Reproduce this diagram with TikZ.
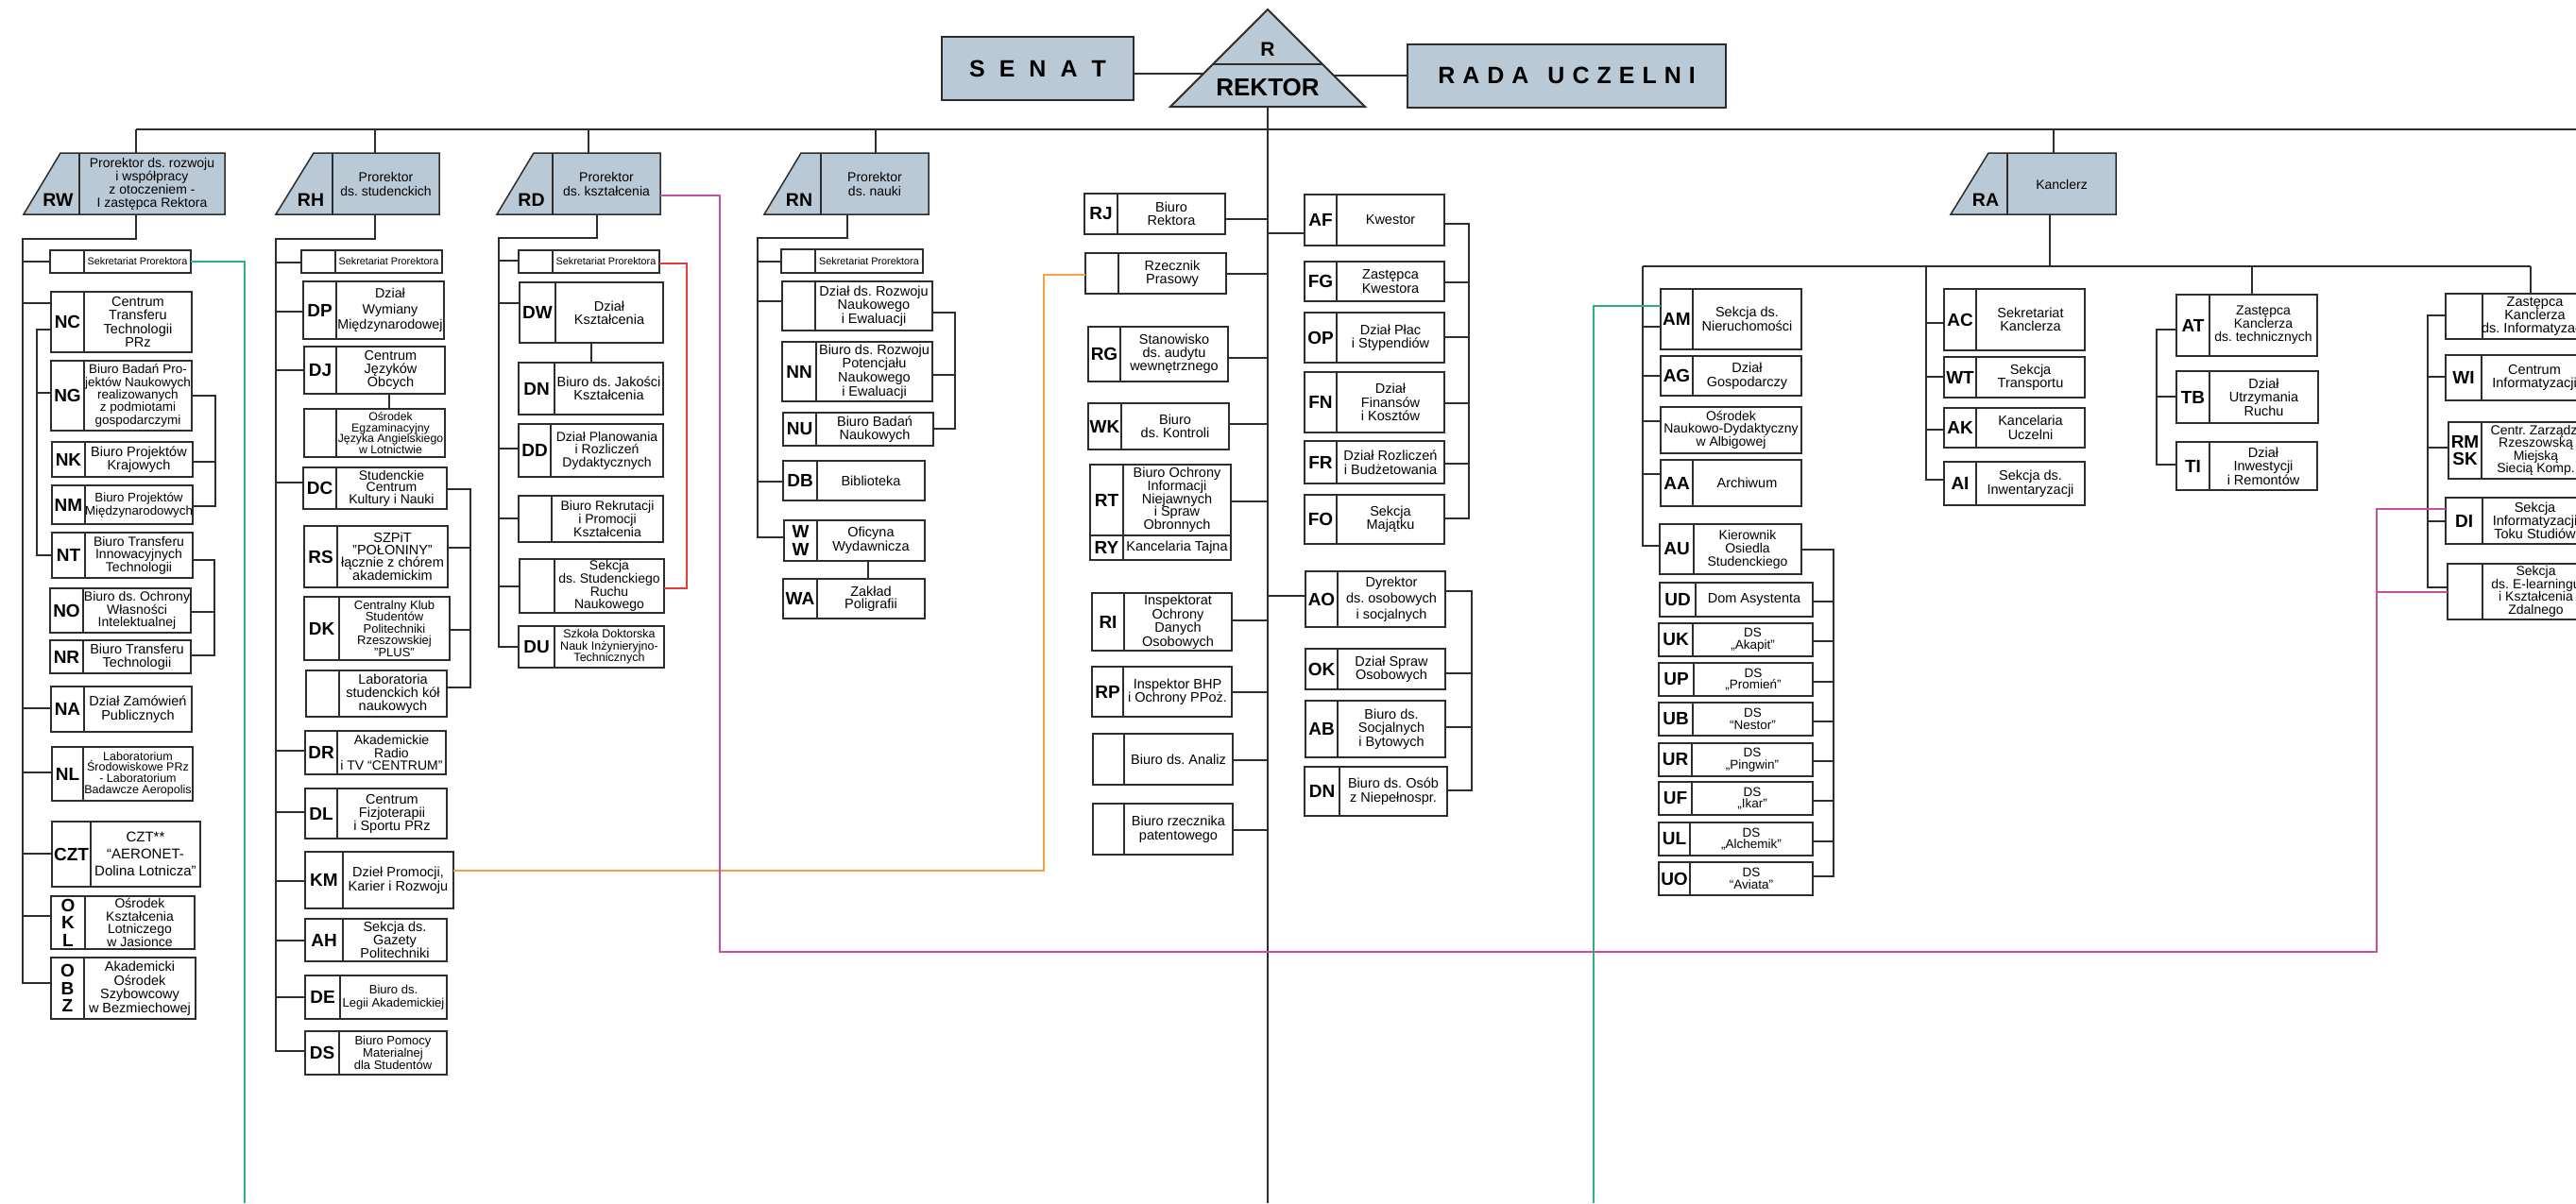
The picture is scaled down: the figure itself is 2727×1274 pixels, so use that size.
\documentclass[tikz,border=0pt]{standalone}
\usepackage{fontspec}
\setmainfont{Liberation Sans}
\usetikzlibrary{calc}
\definecolor{hdr}{RGB}{185,202,214}
\definecolor{lnc}{RGB}{45,45,45}
\definecolor{grn}{RGB}{40,180,120}
\definecolor{org}{RGB}{245,160,70}
\definecolor{mag}{RGB}{195,80,160}
\definecolor{redl}{RGB}{230,60,50}
\newcommand\fs[2]{\fontsize{#1}{#2}\selectfont}
\tikzset{
 ubx/.style={draw=lnc, line width=1.4pt, inner sep=0pt, outer sep=0pt, fill=white},
 cnx/.style={draw=lnc, line width=1.3pt},
 divl/.style={draw=lnc, line width=1.2pt},
 codetxt/.style={inner sep=0pt, align=center, font=\fs{19}{18.5}\bfseries, text=black},
 bodytxt/.style={inner sep=0pt, align=center, text=black},
 hdrbox/.style={draw=lnc, line width=2pt, fill=hdr, inner sep=0pt},
}
% font, name, x1, y1, x2, y2, xdiv, code, text
\newcommand\ubox[9][\fs{14.5}{14.5}]{%
 \node[ubx, minimum width={#5-#3}, minimum height={#6-#4}] (#2) at ({(#3+#5)/2},{(#4+#6)/2}) {};
 \draw[divl] (#7,#4) -- (#7,#6);
 \node[codetxt] (#2c) at ({(#3+#7)/2},{(#4+#6)/2}) {#8};
 \node[bodytxt, font={#1}] (#2t) at ({(#7+#5)/2},{(#4+#6)/2}) {#9};
}
\newcommand\nbox[7][\fs{14.5}{14.5}]{%
 \node[ubx, minimum width={#5-#3}, minimum height={#6-#4}] (#2) at ({(#3+#5)/2},{(#4+#6)/2}) {};
 \node[bodytxt, font={#1}] (#2t) at ({(#3+#5)/2},{(#4+#6)/2}) {#7};
}
% name, xtl, xbl, xdiv, xr, code, text
\newcommand\pbox[7]{%
 \filldraw[fill=hdr, draw=lnc, line width=1.5pt] (#2,162) -- (#5,162) -- (#5,227) -- (#3,227) -- cycle;
 \draw[divl] (#4,162) -- (#4,227);
 \node[inner sep=0pt, outer sep=0pt, minimum width={#5-#3}, minimum height=65] (#1) at ({(#3+#5)/2},194.5) {};
 \node[codetxt, font=\fs{19.5}{19}\bfseries] (#1c) at ({(#3+#4)/2+7},212) {#6};
 \node[bodytxt, font=\fs{14}{14.2}] (#1t) at ({(#4+#5)/2},195) {#7};
}
\newcommand\stubL[3]{\draw[cnx] (#1,#2) -- (#3.west |- 0,#2);}
\newcommand\stubR[3]{\draw[cnx] (#3.east |- 0,#2) -- (#1,#2);}
\begin{document}
\frenchspacing
\begin{tikzpicture}[x=1pt,y=-1pt]
\useasboundingbox (0,0) rectangle (2727,1274);
\clip (0,0) rectangle (2727,1274);
\fill[white] (0,0) rectangle (2727,1274);

% ---------- header ----------
\node[hdrbox, minimum width=203, minimum height=67, font=\fs{25}{25}\bfseries] (SENAT) at (1098.5,72.5)
  {S\hspace{15pt}E\hspace{15pt}N\hspace{15pt}A\hspace{15pt}T};
\node[hdrbox, minimum width=337, minimum height=67, font=\fs{25}{25}\bfseries] (RADA) at (1658.5,80)
  {R\hspace{8pt}A\hspace{8pt}D\hspace{8pt}A\hspace{20pt}U\hspace{8pt}C\hspace{8pt}Z\hspace{8pt}E\hspace{8pt}L\hspace{8pt}N\hspace{8pt}I};
\filldraw[fill=hdr, draw=lnc, line width=2pt] (1342,10) -- (1445,113) -- (1239,113) -- cycle;
\draw[divl] (1284,68) -- (1400,68);
\node[font=\fs{21}{21}\bfseries, inner sep=0pt] (Rt) at (1342,52) {R};
\node[font=\fs{26}{26}\bfseries, inner sep=0pt] (REKTOR) at (1342,93) {REKTOR};
\coordinate (TRb) at (1342,113);
\coordinate (TRl) at (1274,78);
\coordinate (TRr) at (1412,80);

% ---------- prorektorzy ----------
\pbox{RW}{64}{25}{84}{238}{RW}{Prorektor ds. rozwoju\\i współpracy\\z otoczeniem -\\I zastępca Rektora}
\pbox{RH}{332}{292}{352}{465}{RH}{Prorektor\\ds. studenckich}
\pbox{RD}{565}{526}{585}{699}{RD}{Prorektor\\ds. kształcenia}
\pbox{RN}{848}{809}{869}{983}{RN}{Prorektor\\ds. nauki}
\pbox{RA}{2105}{2065}{2125}{2240}{RA}{Kanclerz}

% ---------- RW group ----------
\ubox[\fs{10.8}{11}]{SekRW}{53}{265}{202}{289}{89}{}{Sekretariat Prorektora}
\ubox[\fs{14.5}{14.5}]{NC}{54}{309}{203}{373}{89}{NC}{Centrum\\Transferu\\Technologii\\PRz}
\ubox[\fs{13.5}{13.3}]{NG}{54}{382}{203}{456}{89}{NG}{Biuro Badań Pro-\\jektów Naukowych\\realizowanych\\z podmiotami\\gospodarczymi}
\ubox{NK}{55}{468}{204}{505}{90}{NK}{Biuro Projektów\\Krajowych}
\ubox[\fs{13.3}{14}]{NM}{55}{514}{204}{555}{90}{NM}{Biuro Projektów\\Międzynarodowych}
\ubox[\fs{14}{13.5}]{NT}{55}{564}{204}{612}{90}{NT}{Biuro Transferu\\Innowacyjnych\\Technologii}
\ubox[\fs{14}{13.5}]{NO}{53}{623}{202}{670}{88}{NO}{Biuro ds. Ochrony\\Własności\\Intelektualnej}
\ubox[\fs{14.5}{14.5}]{NR}{53}{678}{202}{713}{88}{NR}{Biuro Transferu\\Technologii}
\ubox[\fs{14.5}{15}]{NA}{54}{727}{203}{775}{89}{NA}{Dział Zamówień\\Publicznych}
\ubox[\fs{12.5}{11.7}]{NL}{55}{791}{204}{848}{88}{NL}{Laboratorium\\Środowiskowe PRz\\- Laboratorium\\Badawcze Aeropolis}
\ubox[\fs{15}{18}]{CZT}{55}{870}{212}{939}{96}{CZT}{CZT**\\“AERONET-\\Dolina Lotnicza”}
\ubox[\fs{14}{13.5}]{OKL}{54}{949}{206}{1005}{90}{O\\K\\L}{Ośrodek\\Kształcenia\\Lotniczego\\w Jasionce}
\ubox[\fs{14.5}{14.5}]{OBZ}{54}{1014}{207}{1079}{89}{O\\B\\Z}{Akademicki\\Ośrodek\\Szybowcowy\\w Bezmiechowej}

% ---------- RH group ----------
\ubox[\fs{10.8}{11}]{SekRH}{319}{265}{468}{289}{355}{}{Sekretariat Prorektora}
\ubox[\fs{14.3}{16.5}]{DP}{321}{298}{470}{359}{356}{DP}{Dział\\Wymiany\\Międzynarodowej}
\ubox[\fs{14.5}{13.5}]{DJ}{322}{367}{471}{417}{356}{DJ}{Centrum\\Języków\\Obcych}
\ubox[\fs{12.3}{11.5}]{OEJ}{322}{433}{471}{484}{356}{}{Ośrodek\\Egzaminacyjny\\Języka Angielskiego\\w Lotnictwie}
\ubox[\fs{14}{12.5}]{DC}{321}{495}{473}{539}{356}{DC}{Studenckie\\Centrum\\Kultury i Nauki}
\ubox[\fs{14.5}{13}]{RS}{322}{557}{474}{622}{357}{RS}{SZPiT\\"POŁONINY"\\łącznie z chórem\\akademickim}
\ubox[\fs{13}{12.5}]{DK}{322}{632}{476}{699}{359}{DK}{Centralny Klub\\Studentów\\Politechniki\\Rzeszowskiej\\"PLUS"}
\ubox[\fs{14.5}{14}]{LSK}{324}{710}{473}{759}{359}{}{Laboratoria\\studenckich kół\\naukowych}
\ubox[\fs{14}{13.3}]{DR}{323}{774}{472}{820}{357}{DR}{Akademickie\\Radio\\i TV “CENTRUM"}
\ubox[\fs{14.5}{14}]{DL}{323}{835}{473}{888}{357}{DL}{Centrum\\Fizjoterapii\\i Sportu PRz}
\ubox[\fs{14.5}{15.5}]{KM}{323}{902}{480}{962}{363}{KM}{Dzieł Promocji,\\Karier i Rozwoju}
\ubox[\fs{14.5}{13.5}]{AH}{323}{973}{473}{1018}{363}{AH}{Sekcja ds.\\Gazety\\Politechniki}
\ubox[\fs{13}{14}]{DE}{323}{1033}{473}{1079}{360}{DE}{Biuro ds.\\Legii Akademickiej}
\ubox[\fs{13}{13}]{DS}{323}{1092}{473}{1138}{359}{DS}{Biuro Pomocy\\Materialnej\\dla Studentów}

% ---------- RD group ----------
\ubox[\fs{10.8}{11}]{SekRD}{549}{265}{698}{289}{585}{}{Sekretariat Prorektora}
\ubox[\fs{14.5}{14}]{DW}{550}{299}{702}{363}{588}{DW}{Dział\\Kształcenia}
\ubox[\fs{14.5}{14}]{DN}{549}{384}{702}{439}{587}{DN}{Biuro ds. Jakości\\Kształcenia}
\ubox[\fs{14}{13.5}]{DD}{549}{449}{702}{505}{583}{DD}{Dział Planowania\\i Rozliczeń\\Dydaktycznych}
\ubox[\fs{14}{13}]{BRK}{549}{525}{702}{574}{584}{}{Biuro Rekrutacji\\i Promocji\\Kształcenia}
\ubox[\fs{14}{12.5}]{SSRN}{550}{592}{703}{649}{587}{}{Sekcja\\ds. Studenckiego\\Ruchu\\Naukowego}
\ubox[\fs{12.5}{12.5}]{DU}{549}{663}{703}{707}{587}{DU}{Szkoła Doktorska\\Nauk Inżynieryjno-\\Technicznych}

% ---------- RN group ----------
\ubox[\fs{10.8}{11}]{SekRN}{827}{264}{977}{289}{863}{}{Sekretariat Prorektora}
\ubox[\fs{14.5}{13.5}]{DRN}{828}{298}{987}{350}{863}{}{Dział ds. Rozwoju\\Naukowego\\i Ewaluacji}
\ubox[\fs{14.5}{13.5}]{NN}{828}{362}{987}{425}{864}{NN}{Biuro ds. Rozwoju\\Potencjału\\Naukowego\\i Ewaluacji}
\ubox[\fs{14.5}{13.5}]{NU}{829}{437}{988}{472}{864}{NU}{Biuro Badań\\Naukowych}
\ubox{DB}{829}{488}{979}{530}{865}{DB}{Biblioteka}
\ubox[\fs{14.5}{13.5}]{WW}{830}{551}{979}{594}{865}{W\\W}{Oficyna\\Wydawnicza}
\ubox[\fs{14.5}{13.5}]{WA}{829}{613}{979}{655}{865}{WA}{Zakład\\Poligrafii}

% ---------- Rektor units ----------
\ubox{RJ}{1148}{205}{1297}{248}{1183}{RJ}{Biuro\\Rektora}
\ubox{RzP}{1149}{268}{1298}{311}{1184}{}{Rzecznik\\Prasowy}
\ubox[\fs{14.5}{14}]{RG}{1152}{346}{1300}{404}{1186}{RG}{Stanowisko\\ds. audytu\\wewnętrznego}
\ubox{WK}{1152}{427}{1301}{476}{1187}{WK}{Biuro\\ds. Kontroli}
\ubox[\fs{14.5}{13.7}]{RT}{1154}{492}{1303}{567}{1189}{RT}{Biuro Ochrony\\Informacji\\Niejawnych\\i Spraw\\Obronnych}
\ubox{RY}{1154}{567}{1303}{593}{1189}{RY}{Kancelaria Tajna}
\ubox{RI}{1156}{628}{1304}{689}{1190}{RI}{Inspektorat\\Ochrony\\Danych\\Osobowych}
\ubox{RP}{1156}{706}{1304}{759}{1189}{RP}{Inspektor BHP\\i Ochrony PPoż.}
\ubox{BAN}{1157}{777}{1305}{831}{1190}{}{Biuro ds. Analiz}
\ubox{BRP}{1157}{851}{1305}{905}{1190}{}{Biuro rzecznika\\patentowego}

\ubox{AF}{1381}{206}{1529}{260}{1415}{AF}{Kwestor}
\ubox{FG}{1381}{277}{1529}{319}{1415}{FG}{Zastępca\\Kwestora}
\ubox{OP}{1381}{331}{1529}{384}{1415}{OP}{Dział Płac\\i Stypendiów}
\ubox{FN}{1381}{394}{1529}{458}{1415}{FN}{Dział\\Finansów\\i Kosztów}
\ubox{FR}{1381}{467}{1529}{512}{1415}{FR}{Dział Rozliczeń\\i Budżetowania}
\ubox{FO}{1381}{524}{1529}{576}{1415}{FO}{Sekcja\\Majątku}
\ubox[\fs{14.5}{17}]{AO}{1382}{605}{1530}{664}{1416}{AO}{Dyrektor\\ds. osobowych\\i socjalnych}
\ubox{OKd}{1382}{687}{1530}{730}{1416}{OK}{Dział Spraw\\Osobowych}
\ubox{AB}{1382}{742}{1530}{802}{1416}{AB}{Biuro ds.\\Socjalnych\\i Bytowych}
\ubox{DNb}{1381}{812}{1532}{864}{1418}{DN}{Biuro ds. Osób\\z Niepełnospr.}

% ---------- Kanclerz group ----------
\ubox{AM}{1758}{306}{1907}{370}{1792}{AM}{Sekcja ds.\\Nieruchomości}
\ubox{AG}{1758}{377}{1907}{419}{1792}{AG}{Dział\\Gospodarczy}
\nbox[\fs{14}{13}]{OND}{1758}{431}{1907}{480}{Ośrodek\\Naukowo-Dydaktyczny\\w Albigowej}
\ubox{AA}{1758}{487}{1907}{536}{1792}{AA}{Archiwum}
\ubox[\fs{14}{14}]{AU}{1757}{555}{1907}{608}{1793}{AU}{Kierownik\\Osiedla\\Studenckiego}
\ubox{UD}{1757}{617}{1919}{653}{1795}{UD}{Dom Asystenta}
\ubox[\fs{13.5}{12.5}]{UK}{1756}{660}{1919}{695}{1792}{UK}{DS\\„Akapit”}
\ubox[\fs{13.5}{12.5}]{UP}{1756}{702}{1919}{737}{1793}{UP}{DS\\„Promień”}
\ubox[\fs{13.5}{12.5}]{UB}{1756}{744}{1919}{779}{1792}{UB}{DS\\“Nestor”}
\ubox[\fs{13.5}{12.5}]{UR}{1756}{787}{1919}{822}{1791}{UR}{DS\\„Pingwin”}
\ubox[\fs{13.5}{12.5}]{UF}{1756}{828}{1919}{863}{1791}{UF}{DS\\„Ikar”}
\ubox[\fs{13.5}{12.5}]{UL}{1756}{871}{1919}{906}{1789}{UL}{DS\\„Alchemik”}
\ubox[\fs{13.5}{12.5}]{UO}{1756}{913}{1919}{948}{1789}{UO}{DS\\“Aviata”}

\ubox{AC}{2058}{306}{2207}{371}{2092}{AC}{Sekretariat\\Kanclerza}
\ubox{WT}{2058}{378}{2207}{421}{2092}{WT}{Sekcja\\Transportu}
\ubox{AK}{2058}{432}{2207}{474}{2092}{AK}{Kancelaria\\Uczelni}
\ubox{AI}{2058}{489}{2207}{535}{2092}{AI}{Sekcja ds.\\Inwentaryzacji}

\ubox[\fs{14}{14}]{AT}{2304}{312}{2453}{377}{2339}{AT}{Zastępca\\Kanclerza\\ds. technicznych}
\ubox{TB}{2304}{393}{2454}{448}{2339}{TB}{Dział\\Utrzymania\\Ruchu}
\ubox{TI}{2304}{468}{2453}{519}{2339}{TI}{Dział\\Inwestycji\\i Remontów}

\ubox[\fs{14.5}{14}]{ZKI}{2589}{311}{2739}{359}{2628}{}{Zastępca\\Kanclerza\\ds. Informatyzacji}
\ubox{WI}{2589}{376}{2739}{424}{2627}{WI}{Centrum\\Informatyzacji}
\ubox[\fs{14}{13.5}]{RMSK}{2592}{447}{2742}{507}{2627}{RM\\SK}{Centr. Zarządz.\\Rzeszowską\\Miejską\\Siecią Komp.}
\ubox[\fs{14.5}{14}]{DI}{2589}{527}{2739}{576}{2628}{DI}{Sekcja\\Informatyzacji\\Toku Studiów}
\ubox[\fs{14}{13.5}]{EL}{2591}{597}{2741}{656}{2628}{}{Sekcja\\ds. E-learningu\\i Kształcenia\\Zdalnego}

% ---------- connectors ----------
\draw[cnx] (144,137) -- (2727,137);
\draw[cnx] (144,137) -- (RW.north -| 144,0);
\draw[cnx] (397,137) -- (RH.north -| 397,0);
\draw[cnx] (623,137) -- (RD.north -| 623,0);
\draw[cnx] (927,137) -- (RN.north -| 927,0);
\draw[cnx] (2174,137) -- (RA.north -| 2174,0);
\draw[cnx] (TRb) -- (1342,1274);
\draw[cnx] (SENAT.east |- TRl) -- (TRl);
\draw[cnx] (TRr) -- (RADA.west |- TRr);

% RW
\draw[cnx] (RW.south -| 144,0) |- (24,253) -- (24,1041) -- (OBZ.west |- 0,1041);
\stubL{24}{277}{SekRW}\stubL{24}{321}{NC}\stubL{24}{750}{NA}\stubL{24}{818}{NL}\stubL{24}{904}{CZT}\stubL{24}{970}{OKL}
\draw[cnx] (NC.west |- 0,349) -| (39,588) -- (NT.west |- 0,588);
\stubL{39}{416}{NG}
\draw[cnx] (NG.east |- 0,419) -| (228,536) -- (NM.east |- 0,536);
\stubR{228}{489}{NK}
\draw[cnx] (NT.east |- 0,593) -| (227,694) -- (NR.east |- 0,694);
\stubR{227}{648}{NO}

% RH
\draw[cnx] (RH.south -| 397,0) |- (292,253) -- (292,1113) -- (DS.west |- 0,1113);
\stubL{292}{278}{SekRH}\stubL{292}{330}{DP}\stubL{292}{392}{DJ}\stubL{292}{511}{DC}\stubL{292}{795}{DR}
\stubL{292}{860}{DL}\stubL{292}{933}{KM}\stubL{292}{996}{AH}\stubL{292}{1056}{DE}
\draw[cnx] (DJ.south -| 412,0) -- (OEJ.north -| 412,0);
\draw[cnx] (DC.east |- 0,518) -| (498,728) -- (LSK.east |- 0,728);
\stubR{498}{580}{RS}\stubR{498}{667}{DK}

% RD
\draw[cnx] (RD.south -| 632,0) |- (528,252) -- (528,685) -- (DU.west |- 0,685);
\stubL{528}{276}{SekRD}\stubL{528}{321}{DW}\stubL{528}{475}{DD}\stubL{528}{549}{BRK}\stubL{528}{621}{SSRN}
\draw[cnx] (DW.south -| 626,0) -- (DN.north -| 626,0);

% RN
\draw[cnx] (RN.south -| 897,0) |- (802,252) -- (802,569) -- (WW.west |- 0,569);
\stubL{802}{277}{SekRN}\stubL{802}{319}{DRN}\stubL{802}{510}{DB}
\draw[cnx] (DRN.east |- 0,331) -| (1011,454) -- (NU.east |- 0,454);
\stubR{1011}{397}{NN}
\draw[cnx] (WW.south -| 919,0) -- (WA.north -| 919,0);

% Rektor
\stubR{1342}{232}{RJ}\stubR{1342}{290}{RzP}\stubR{1342}{379}{RG}\stubR{1342}{449}{WK}\stubR{1342}{531}{RT}
\stubR{1342}{657}{RI}\stubR{1342}{733}{RP}\stubR{1342}{805}{BAN}\stubR{1342}{879}{BRP}
\stubL{1342}{247}{AF}\stubL{1342}{631}{AO}
\draw[cnx] (AF.east |- 0,237) -| (1555,549) -- (FO.east |- 0,549);
\stubR{1555}{299}{FG}\stubR{1555}{357}{OP}\stubR{1555}{427}{FN}\stubR{1555}{491}{FR}
\draw[cnx] (AO.east |- 0,626) -| (1558,837) -- (DNb.east |- 0,837);
\stubR{1558}{713}{OKd}\stubR{1558}{770}{AB}

% Kanclerz
\draw[cnx] (RA.south -| 2170,0) -- (2170,282);
\draw[cnx] (1739,282) -- (2679,282);
\draw[cnx] (2679,282) -- (ZKI.north -| 2679,0);
\draw[cnx] (2384,282) -- (AT.north -| 2384,0);
\draw[cnx] (1739,282) -- (1739,578) -- (AU.west |- 0,578);
\stubL{1739}{346}{AM}\stubL{1739}{398}{AG}\stubL{1739}{446}{OND}\stubL{1739}{502}{AA}
\draw[cnx] (2039,282) -- (2039,508) -- (AI.west |- 0,508);
\stubL{2039}{342}{AC}\stubL{2039}{399}{WT}\stubL{2039}{455}{AK}
\draw[cnx] (AU.east |- 0,582) -| (1941,928) -- (UO.east |- 0,928);
\stubR{1941}{637}{UD}\stubR{1941}{679}{UK}\stubR{1941}{722}{UP}\stubR{1941}{764}{UB}
\stubR{1941}{806}{UR}\stubR{1941}{848}{UF}\stubR{1941}{891}{UL}
\draw[cnx] (AT.west |- 0,349) -| (2283,492) -- (TI.west |- 0,492);
\stubL{2283}{420}{TB}
\draw[cnx] (ZKI.west |- 0,334) -| (2570,622) -- (EL.west |- 0,622);
\stubL{2570}{399}{WI}\stubL{2570}{474}{RMSK}\stubL{2570}{552}{DI}

% coloured links
\draw[cnx, draw=grn] (SekRW.east |- 0,277) -| (259,1274);
\draw[cnx, draw=grn] (AM.west |- 0,324) -| (1687,1274);
\draw[cnx, draw=org] (KM.east |- 0,922) -| (1105,291) -- (RzP.west |- 0,291);
\draw[cnx, draw=redl] (SekRD.east |- 0,279) -| (727,623) -- (SSRN.east |- 0,623);
\draw[cnx, draw=mag] (RD.east |- 0,207) -| (762,1008) -| (2516,539) -- (DI.west |- 0,539);
\draw[cnx, draw=mag] (2516,627) -- (EL.west |- 0,627);
\end{tikzpicture}
\end{document}
